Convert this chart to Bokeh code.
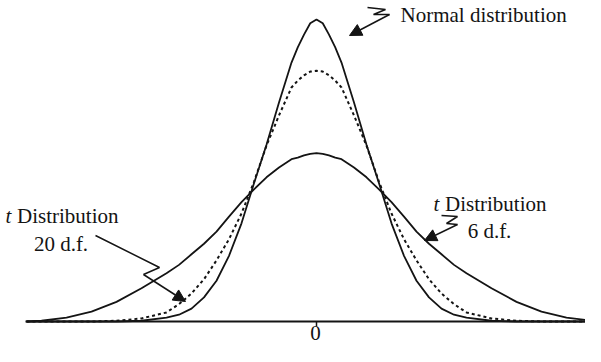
from bokeh.plotting import figure
from bokeh.models import Label, Arrow, NormalHead, Range1d
from bokeh.embed import file_html
from bokeh.resources import INLINE

# ---- data (x in units of 50 px, y in density-like units) ----
X = [-5.8, -5.5, -5, -4.5, -4, -3.5, -3, -2.75, -2.5, -2.25, -2, -1.75, -1.5, -1.25, -1,
     -0.75, -0.5, -0.375, -0.25, -0.125, 0, 0.125, 0.25, 0.375, 0.5, 0.75, 1, 1.25, 1.5,
     1.75, 2, 2.25, 2.5, 2.75, 3, 3.5, 4, 4.5, 5, 5.5, 6]

NORMAL = [0, 0, 0, 0, 0, 0.001, 0.005, 0.009, 0.017, 0.032, 0.054, 0.087, 0.130, 0.183, 0.234,
          0.290, 0.343, 0.363, 0.380, 0.395, 0.400, 0.395, 0.380, 0.363, 0.343, 0.290, 0.234,
          0.183, 0.130, 0.087, 0.054, 0.032, 0.017, 0.009, 0.005, 0.001, 0, 0, 0, 0, 0]

T20 = [0, 0, 0, 0, 0.001, 0.004, 0.012, 0.023, 0.037, 0.056, 0.081, 0.109, 0.143, 0.185, 0.233,
       0.273, 0.310, 0.319, 0.326, 0.331, 0.332, 0.331, 0.326, 0.319, 0.310, 0.273, 0.233,
       0.185, 0.143, 0.109, 0.081, 0.056, 0.037, 0.023, 0.012, 0.004, 0.001, 0, 0, 0, 0]

T6 = [0, 0.001, 0.005, 0.013, 0.026, 0.044, 0.064, 0.075, 0.089, 0.103, 0.119, 0.139, 0.158,
      0.175, 0.191, 0.204, 0.215, 0.217, 0.220, 0.222, 0.223, 0.222, 0.220, 0.217, 0.215,
      0.204, 0.191, 0.175, 0.158, 0.139, 0.119, 0.103, 0.089, 0.075, 0.064, 0.044, 0.026,
      0.013, 0.005, 0.001, 0]

BASE_X = [-5.82, 6.0]
BASE_Y = [0, 0]
TICK_X = [0]
TICK_LABELS = ["0"]

LABEL_NORMAL = "Normal distribution"
LABEL_T = "t"
LABEL_DIST = "Distribution"
LABEL_20 = "20 d.f."
LABEL_6 = "6 d.f."

# ---- layout helpers (picture pixel -> data) ----
W, H = 585, 346
CX, BY = 316.0, 321.0
PX_X, PX_Y = 50.0, 755.0


def dx(px):
    return (px - CX) / PX_X


def dy(py):
    return (BY - py) / PX_Y


INK = "#141414"
FONT = "Liberation Serif"
FS = "21px"

p = figure(width=W, height=H, output_backend="svg", toolbar_location=None,
           x_range=Range1d(dx(0), dx(W)), y_range=Range1d(dy(H), dy(0)),
           x_axis_type=None, y_axis_type=None, min_border=0)
p.grid.visible = False
p.outline_line_color = None
p.background_fill_color = "white"
p.border_fill_color = "white"

# baseline and tick
p.line(BASE_X, BASE_Y, line_width=2, color=INK)
p.segment(x0=TICK_X, y0=[0], x1=TICK_X, y1=[dy(326)], line_width=1.5, color=INK)

# curves
p.line(X, T6, line_width=1.8, color=INK)
p.line(X, T20, line_width=2, color=INK, line_dash="3 3")
p.line(X, NORMAL, line_width=1.8, color=INK)


def label(px, py, text, align="left", style="normal"):
    p.add_layout(Label(x=dx(px), y=dy(py), text=text, text_align=align,
                       text_baseline="middle", text_font=FONT, text_font_size=FS,
                       text_font_style=style, text_color=INK))


label(315, 332, TICK_LABELS[0], align="center")
label(400, 14, LABEL_NORMAL)
label(5, 215, LABEL_T, style="italic")
label(16.5, 215, LABEL_DIST)
label(60.5, 243, LABEL_20, align="center")
label(433, 203.5, LABEL_T, style="italic")
label(444.5, 203.5, LABEL_DIST)
label(489, 230, LABEL_6, align="center")


def leader(points, tip):
    xs = [dx(a) for a, b in points]
    ys = [dy(b) for a, b in points]
    p.line(xs, ys, line_width=1.5, color=INK)
    last = points[-1]
    p.add_layout(Arrow(end=NormalHead(size=12, fill_color=INK, line_color=INK, line_width=1),
                       x_start=dx(last[0]), y_start=dy(last[1]),
                       x_end=dx(tip[0]), y_end=dy(tip[1]),
                       line_width=1.5, line_color=INK))


leader([(367, 7), (385, 9), (373, 14), (389, 14)], (349, 35))
leader([(441, 215), (457, 216), (446, 223), (457, 224)], (424, 240))
leader([(95, 235), (159, 267), (143, 274)], (185, 301))

open("out.html", "w").write(file_html(p, INLINE))
